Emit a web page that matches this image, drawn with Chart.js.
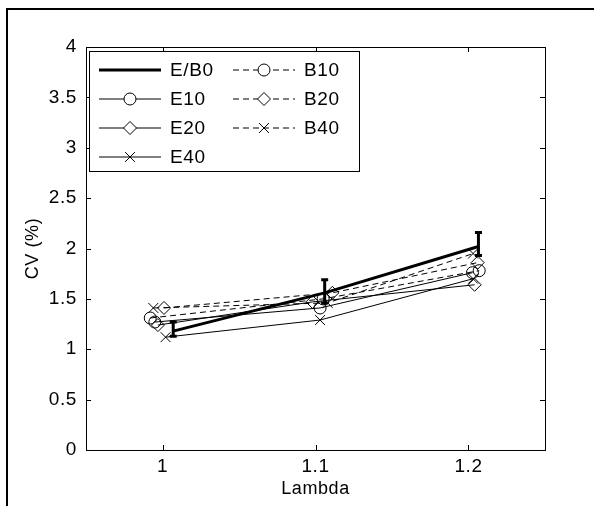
<!DOCTYPE html>
<html>
<head>
<meta charset="utf-8">
<script src="https://cdn.jsdelivr.net/npm/chart.js@4.4.0/dist/chart.umd.min.js"></script>
<style>
html, body { margin: 0; padding: 0; background: #fff; }
#wrap { position: relative; width: 594px; height: 506px; }
</style>
</head>
<body>
<div id="wrap"><canvas id="cvChart" width="594" height="506"></canvas></div>
<script>
// tick labels
const lambdaTicks = [1, 1.1, 1.2];
const cvTicks = [0, 0.5, 1, 1.5, 2, 2.5, 3, 3.5, 4];

// lambda values are staggered a little around 1, 1.1, 1.2 (as in the figure)
const lambdaEB0 = [1.007, 1.106, 1.2065];
const cvEB0 = [1.18, 1.56, 2.02];
const cvEB0Low = [1.13, 1.46, 1.93];
const cvEB0High = [1.27, 1.69, 2.16];

const lambdaE10 = [0.995, 1.103, 1.2026];
const cvE10 = [1.27, 1.41, 1.76];
const lambdaE20 = [0.997, 1.098, 1.204];
const cvE20 = [1.24, 1.47, 1.64];
const lambdaE40 = [1.002, 1.103, 1.203];
const cvE40 = [1.12, 1.29, 1.70];

const lambdaB10 = [0.992, 1.105, 1.207];
const cvB10 = [1.31, 1.50, 1.78];
const lambdaB20 = [1.001, 1.111, 1.206];
const cvB20 = [1.41, 1.56, 1.86];
const lambdaB40 = [0.994, 1.108, 1.203];
const cvB40 = [1.41, 1.46, 1.95];

const FONT = '"Liberation Sans", Arial, Helvetica, sans-serif';

function pts(xs, ys) {
  return xs.map((x, i) => ({ x: x, y: ys[i] }));
}

function series(label, xs, ys, marker, dashed, width) {
  return {
    label: label,
    data: pts(xs, ys),
    borderColor: '#000',
    backgroundColor: 'rgba(0,0,0,0)',
    borderWidth: width || 1,
    borderDash: dashed ? [6, 4] : [],
    pointStyle: marker || false,
    pointRadius: marker === 'crossRot' ? 7 : (marker === 'rectRot' ? 6.5 : (marker ? 6 : 0)),
    pointBorderColor: '#000',
    pointBackgroundColor: 'rgba(0,0,0,0)',
    pointBorderWidth: 1,
    fill: false,
    tension: 0
  };
}

const datasets = [
  series('E10', lambdaE10, cvE10, 'circle', false),
  series('E20', lambdaE20, cvE20, 'rectRot', false),
  series('E40', lambdaE40, cvE40, 'crossRot', false),
  series('B10', lambdaB10, cvB10, 'circle', true),
  series('B20', lambdaB20, cvB20, 'rectRot', true),
  series('B40', lambdaB40, cvB40, 'crossRot', true),
  series('E/B0', lambdaEB0, cvEB0, false, false, 3)
];

// outer frame, axes box and inward tick marks (matlab look)
const framePlugin = {
  id: 'frame',
  beforeDraw(chart) {
    const ctx = chart.ctx;
    ctx.save();
    ctx.fillStyle = '#fff';
    ctx.fillRect(0, 0, chart.width, chart.height);
    ctx.strokeStyle = '#000';
    ctx.lineWidth = 2;
    ctx.beginPath();
    ctx.moveTo(7, chart.height);
    ctx.lineTo(7, 9);
    ctx.lineTo(chart.width, 9);
    ctx.stroke();
    ctx.restore();
    // text in the figure is a bit widely spaced
    ctx.letterSpacing = '0.6px';
  },
  afterDraw(chart) {
    const ctx = chart.ctx;
    const a = chart.chartArea;
    const xs = chart.scales.x, ys = chart.scales.y;
    ctx.save();
    ctx.strokeStyle = '#000';
    ctx.lineWidth = 1;
    ctx.strokeRect(a.left + 0.5, a.top + 0.5, a.right - a.left, a.bottom - a.top);
    ctx.beginPath();
    lambdaTicks.forEach(v => {
      const px = Math.round(xs.getPixelForValue(v)) + 0.5;
      ctx.moveTo(px, a.bottom); ctx.lineTo(px, a.bottom - 5);
      ctx.moveTo(px, a.top); ctx.lineTo(px, a.top + 5);
    });
    cvTicks.forEach(v => {
      const py = Math.round(ys.getPixelForValue(v)) + 0.5;
      ctx.moveTo(a.left, py); ctx.lineTo(a.left + 5, py);
      ctx.moveTo(a.right, py); ctx.lineTo(a.right - 5, py);
    });
    ctx.stroke();
    ctx.restore();
  }
};

// error bars on the E/B0 curve
const errorBarPlugin = {
  id: 'errorBars',
  afterDatasetsDraw(chart) {
    const ctx = chart.ctx;
    const xs = chart.scales.x, ys = chart.scales.y;
    ctx.save();
    ctx.strokeStyle = '#000';
    ctx.lineWidth = 3;
    ctx.beginPath();
    lambdaEB0.forEach((x, i) => {
      const px = xs.getPixelForValue(x);
      const lo = ys.getPixelForValue(cvEB0Low[i]);
      const hi = ys.getPixelForValue(cvEB0High[i]);
      ctx.moveTo(px, lo); ctx.lineTo(px, hi);
      ctx.moveTo(px - 3.5, lo); ctx.lineTo(px + 3.5, lo);
      ctx.moveTo(px - 3.5, hi); ctx.lineTo(px + 3.5, hi);
    });
    ctx.stroke();
    ctx.restore();
  }
};

// two-column legend box in the upper left corner
const legendPlugin = {
  id: 'boxLegend',
  afterDraw(chart) {
    const ctx = chart.ctx;
    const a = chart.chartArea;
    const box = { x: a.left + 3, y: a.top + 4, w: 270, h: 120 };
    ctx.save();
    ctx.fillStyle = '#fff';
    ctx.fillRect(box.x, box.y, box.w, box.h);
    ctx.strokeStyle = '#000';
    ctx.lineWidth = 1;
    ctx.strokeRect(box.x + 0.5, box.y + 0.5, box.w, box.h);

    const order = ['E/B0', 'E10', 'E20', 'E40', 'B10', 'B20', 'B40'];
    ctx.font = '19px ' + FONT;
    ctx.letterSpacing = '0.6px';
    ctx.textBaseline = 'middle';
    ctx.fillStyle = '#000';
    order.forEach((name, i) => {
      const ds = chart.data.datasets.find(d => d.label === name);
      const col = i < 4 ? 0 : 1;
      const row = i < 4 ? i : i - 4;
      const x0 = box.x + 10 + col * 134;
      const y = box.y + 19 + row * 29;
      ctx.save();
      ctx.lineWidth = ds.borderWidth;
      ctx.setLineDash(ds.borderDash);
      ctx.beginPath();
      ctx.moveTo(x0, y); ctx.lineTo(x0 + 62, y);
      ctx.stroke();
      ctx.restore();
      if (ds.pointStyle) {
        ctx.save();
        ctx.lineWidth = 1;
        ctx.strokeStyle = '#000';
        ctx.fillStyle = '#fff';
        Chart.helpers.drawPoint(ctx, {
          pointStyle: ds.pointStyle, radius: ds.pointRadius, borderWidth: 1
        }, x0 + 31, y);
        ctx.restore();
      }
      ctx.fillText(name, x0 + 71, y + 1);
    });
    ctx.restore();
  }
};

new Chart(document.getElementById('cvChart').getContext('2d'), {
  type: 'line',
  data: { datasets: datasets },
  plugins: [framePlugin, errorBarPlugin, legendPlugin],
  options: {
    responsive: false,
    animation: false,
    events: [],
    layout: { padding: { top: 47, right: 49, left: 0, bottom: 0 } },
    plugins: {
      legend: { display: false },
      tooltip: { enabled: false },
      title: { display: false }
    },
    scales: {
      x: {
        type: 'linear',
        min: 0.95,
        max: 1.25,
        afterBuildTicks: s => { s.ticks = lambdaTicks.map(v => ({ value: v })); },
        afterFit: s => { s.height = 56; },
        grid: { display: false, drawTicks: false },
        border: { display: false },
        ticks: {
          color: '#000',
          padding: 5,
          font: { family: FONT, size: 19 },
          callback: v => String(Math.round(v * 10) / 10)
        },
        title: {
          display: true,
          text: 'Lambda',
          color: '#000',
          font: { family: FONT, size: 18 },
          padding: { top: 0, bottom: 6 }
        }
      },
      y: {
        min: 0,
        max: 4,
        afterBuildTicks: s => { s.ticks = cvTicks.map(v => ({ value: v })); },
        afterFit: s => { s.width = 86; },
        grid: { display: false, drawTicks: false },
        border: { display: false },
        ticks: {
          color: '#000',
          padding: 9,
          font: { family: FONT, size: 19 },
          callback: v => String(v)
        },
        title: {
          display: true,
          text: 'CV (%)',
          color: '#000',
          font: { family: FONT, size: 18 },
          padding: { top: 22, bottom: 0 }
        }
      }
    }
  }
});
</script>
</body>
</html>
